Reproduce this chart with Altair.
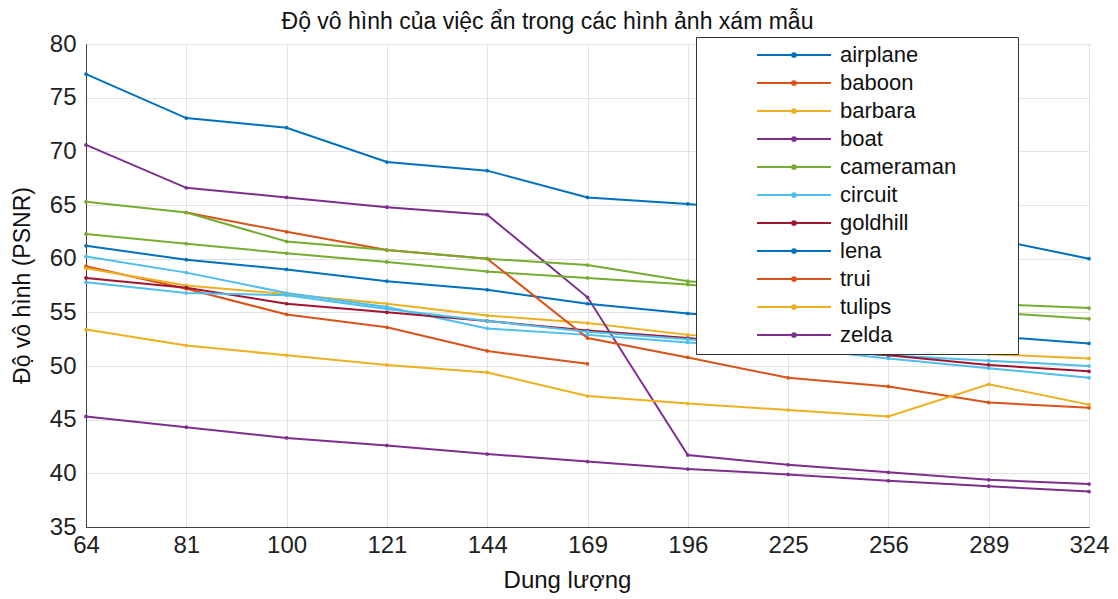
import altair as alt
import pandas as pd

caps = ["64", "81", "100", "121", "144", "169", "196", "225", "256", "289", "324"]

names = ["airplane", "baboon", "barbara", "boat", "cameraman", "circuit",
         "goldhill", "lena", "trui", "tulips", "zelda", "data12", "data13"]

airplane = [77.2, 73.1, 72.2, 69.0, 68.2, 65.7, 65.1, 64.3, 63.3, 61.9, 60.0]
baboon = [59.3, 57.2, 54.8, 53.6, 51.4, 50.2, None, None, None, None, None]
barbara = [59.1, 57.5, 56.7, 55.8, 54.7, 54.0, 52.9, 52.3, 51.7, 51.1, 50.7]
boat = [70.6, 66.6, 65.7, 64.8, 64.1, 56.4, 41.7, 40.8, 40.1, 39.4, 39.0]
cameraman = [62.3, 61.4, 60.5, 59.7, 58.8, 58.2, 57.6, 56.6, 55.8, 55.0, 54.4]
circuit = [60.2, 58.7, 56.8, 55.5, 53.5, 52.9, 52.2, 51.6, 51.0, 50.5, 50.0]
goldhill = [58.2, 57.3, 55.8, 55.0, 54.2, 53.3, 52.6, 51.7, 51.0, 50.1, 49.5]
lena = [61.2, 59.9, 59.0, 57.9, 57.1, 55.8, 54.9, 54.2, 53.5, 52.8, 52.1]
trui = [None, 64.3, 62.5, 60.8, 60.0, 52.6, 50.8, 48.9, 48.1, 46.6, 46.1]
tulips = [53.4, 51.9, 51.0, 50.1, 49.4, 47.2, 46.5, 45.9, 45.3, 48.3, 46.4]
zelda = [45.3, 44.3, 43.3, 42.6, 41.8, 41.1, 40.4, 39.9, 39.3, 38.8, 38.3]
data12 = [65.3, 64.3, 61.6, 60.8, 60.0, 59.4, 57.9, 57.2, 56.5, 55.8, 55.4]
data13 = [57.8, 56.8, 56.6, 55.3, 54.2, 53.2, 52.5, 51.7, 50.7, 49.8, 48.9]

series = [airplane, baboon, barbara, boat, cameraman, circuit, goldhill,
          lena, trui, tulips, zelda, data12, data13]

colors = ["#0072BD", "#D95319", "#EDB120", "#7E2F8E", "#77AC30", "#4DBEEE",
          "#A2142F", "#0072BD", "#D95319", "#EDB120", "#7E2F8E", "#77AC30",
          "#4DBEEE"]

y_ticks = [35, 40, 45, 50, 55, 60, 65, 70, 75, 80]

rows = []
for i, (name, vals) in enumerate(zip(names, series)):
    for c, v in zip(caps, vals):
        if v is not None:
            rows.append({"cap": c, "psnr": v, "img": name, "idx": i})
df = pd.DataFrame(rows)

FONT = "Liberation Sans"
legend_shape = "M-1,0H1M0.05,0A0.05,0.05,0,1,1,-0.05,0A0.05,0.05,0,1,1,0.05,0"

chart = alt.Chart(df).mark_line(
    strokeWidth=2,
    point=alt.OverlayMarkDef(filled=True, size=14),
).encode(
    x=alt.X("cap:O", sort=caps,
            scale=alt.Scale(type="point", padding=0),
            axis=alt.Axis(title="Dung lượng", labelAngle=0, grid=True,
                          tickSize=0, labelPadding=6, labelFontSize=24,
                          titleFontSize=24, titleX=481, titleY=53,
                          titleBaseline="middle", titleFontWeight="normal")),
    y=alt.Y("psnr:Q",
            scale=alt.Scale(domain=[35, 80], nice=False, zero=False),
            axis=alt.Axis(title="Độ vô hình (PSNR)", values=y_ticks, grid=True,
                          tickSize=0, labelPadding=10, labelFontSize=24,
                          titleFontSize=23, titleX=-64, titleY=241,
                          titleBaseline="middle", titleFontWeight="normal")),
    color=alt.Color("img:N", sort=names,
                    scale=alt.Scale(domain=names, range=colors),
                    legend=alt.Legend(
                        values=names[:11], title="\u00a0", titleOrient="right",
                        titlePadding=54, titleFontSize=11,
                        orient="none",
                        legendX=610, legendY=-7, padding=8,
                        fillColor="white", strokeColor="#333333",
                        symbolType=legend_shape, symbolSize=5476,
                        symbolStrokeWidth=2, clipHeight=20, rowPadding=6,
                        symbolOffset=52, labelOffset=8,
                        labelFontSize=22, labelFont=FONT, labelColor="#111111")),
    detail="idx:O",
).properties(
    width=1003,
    height=483,
    title=alt.TitleParams("Độ vô hình của việc ẩn trong các hình ảnh xám mẫu",
                          fontSize=23, font=FONT, fontWeight="normal",
                          anchor="middle", baseline="bottom", offset=16, dx=-40,
                          dy=41, color="#111111"),
    autosize=alt.AutoSizeParams(type="none"),
    padding={"left": 78, "top": 36, "right": 21, "bottom": 70},
).configure_view(
    stroke="#404040", strokeWidth=1,
).configure_axis(
    labelFont=FONT, titleFont=FONT, labelColor="#222222", titleColor="#111111",
    domainColor="#404040", gridColor="#e3e3e3", gridWidth=1,
)

chart.save("out.html", embed_options={"renderer": "svg", "actions": False})
